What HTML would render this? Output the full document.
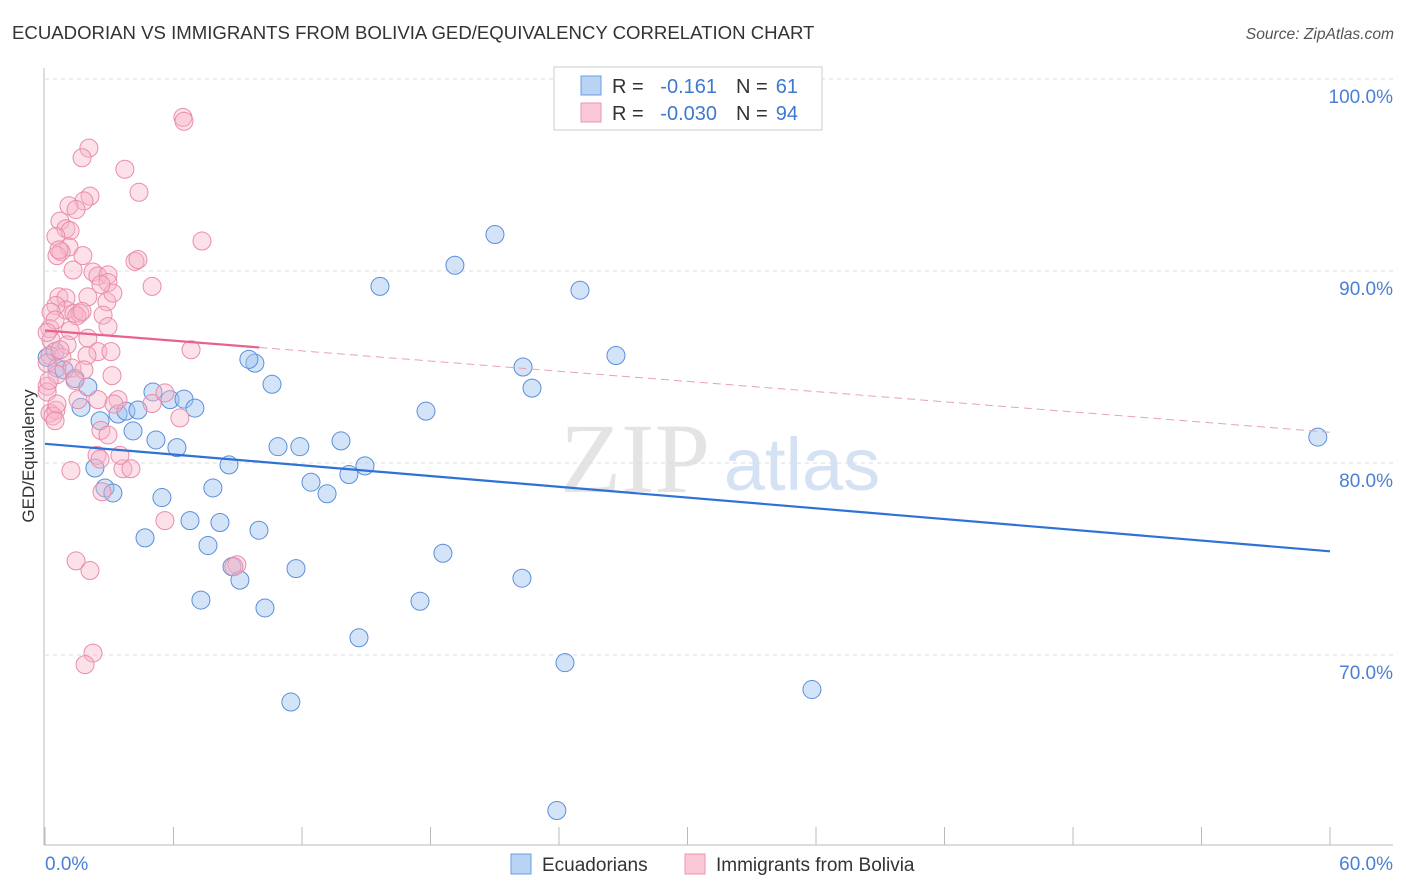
<!DOCTYPE html>
<html><head><meta charset="utf-8">
<style>
body{margin:0;background:#fff;font-family:"Liberation Sans",sans-serif;}
svg{display:block}
</style></head>
<body>
<svg id="chart" width="1406" height="892" xmlns="http://www.w3.org/2000/svg">
<text x="12" y="39" font-size="18.6" fill="#333">ECUADORIAN VS IMMIGRANTS FROM BOLIVIA GED/EQUIVALENCY CORRELATION CHART</text>
<text x="1394" y="39" font-size="15.6" fill="#555" font-style="italic" text-anchor="end">Source: ZipAtlas.com</text>
<g>
<text x="635" y="492" font-size="100" font-family="Liberation Serif,serif" fill="#e4e4e4" text-anchor="middle">ZIP</text>
<text x="802" y="490" font-size="74" fill="#d4e2f4" text-anchor="middle">atlas</text>
</g>
<g id="grid"></g>
<g id="axes"></g>
<g id="marks"></g>
<text transform="translate(34,456) rotate(-90)" font-size="17" fill="#333" text-anchor="middle">GED/Equivalency</text>
<text x="45" y="870" font-size="19" fill="#4a7fd4">0.0%</text>
<text x="1393" y="870" font-size="19" fill="#4a7fd4" text-anchor="end">60.0%</text>
<g>
<rect x="554" y="67" width="268" height="63" fill="#fff" stroke="#ccc"/>
<rect x="581" y="76" width="20" height="19" fill="#b9d3f5" stroke="#6c9ce0"/>
<rect x="581" y="103" width="20" height="19" fill="#fbc8d8" stroke="#ec94b1"/>
<text x="612" y="93" font-size="20" fill="#333">R =</text>
<text x="717" y="93" font-size="20" fill="#3e78d0" text-anchor="end">-0.161</text>
<text x="736" y="93" font-size="20" fill="#333">N =</text>
<text x="798" y="93" font-size="20" fill="#3e78d0" text-anchor="end">61</text>
<text x="612" y="120" font-size="20" fill="#333">R =</text>
<text x="717" y="120" font-size="20" fill="#3e78d0" text-anchor="end">-0.030</text>
<text x="736" y="120" font-size="20" fill="#333">N =</text>
<text x="798" y="120" font-size="20" fill="#3e78d0" text-anchor="end">94</text>
</g>
<g>
<rect x="511" y="854" width="20" height="20" fill="#b9d3f5" stroke="#6c9ce0"/>
<text x="542" y="871" font-size="19" fill="#333">Ecuadorians</text>
<rect x="685" y="854" width="20" height="20" fill="#fbc8d8" stroke="#ec94b1"/>
<text x="716" y="871" font-size="19" fill="#333">Immigrants from Bolivia</text>
</g>
</svg>
<script>
const yTicks=[100,90,80,70];
const yTickLabels=["100.0%","90.0%","80.0%","70.0%"];
const xTicks=[0,6,12,18,24,30,36,42,48,54,60];
const blueX=[59.43,21.01,19.14,24.98,15.64,26.66,22.32,22.74,9.8,9.52,10.6,17.79,0.1,0.47,0.56,0.89,1.4,2.0,1.68,2.57,3.41,3.78,4.11,4.34,5.04,5.84,6.49,7.0,5.18,6.16,8.59,10.88,11.9,13.82,14.19,14.94,12.42,13.17,7.84,2.33,2.8,3.17,5.46,6.77,8.17,4.67,9.99,7.61,18.58,8.73,9.1,11.72,22.27,7.28,10.27,17.51,14.66,24.28,35.81,11.48,23.9];
const blueY=[81.35,91.9,90.3,89.0,89.2,85.6,85.0,83.9,85.2,85.4,84.1,82.7,85.5,85.8,84.95,84.85,84.4,83.96,82.9,82.2,82.55,82.7,81.67,82.76,83.7,83.3,83.33,82.86,81.2,80.8,79.9,80.85,80.85,81.15,79.4,79.85,79.0,78.4,78.7,79.74,78.7,78.44,78.2,77.0,76.9,76.1,76.5,75.7,75.3,74.6,73.9,74.5,74.0,72.86,72.45,72.8,70.9,69.6,68.2,67.55,61.9];
const pinkX=[6.44,6.49,2.05,1.73,3.73,4.39,2.1,1.82,1.12,1.45,0.7,0.98,1.17,0.51,1.12,0.75,0.56,7.33,4.2,4.34,1.77,1.31,2.24,2.47,2.94,2.94,5.0,0.65,0.98,0.98,0.51,0.28,1.35,1.63,2.0,2.89,3.17,2.61,0.23,0.47,1.49,1.73,1.17,2.71,2.94,2.0,1.03,0.28,0.23,0.79,2.47,1.96,3.08,6.82,0.1,1.26,1.82,1.4,0.56,3.13,0.1,0.1,0.23,0.51,0.37,0.56,1.54,2.47,2.61,3.41,3.22,5.0,5.6,6.3,2.94,2.43,1.21,3.64,4.01,2.66,5.6,8.96,8.82,1.45,2.1,2.24,1.87,0.65,0.1,0.19,0.47,3.5,2.57,0.7];
const pinkY=[98.0,97.8,96.4,95.9,95.3,94.1,93.9,93.65,93.4,93.2,92.6,92.2,92.1,91.8,91.25,91.0,90.8,91.56,90.5,90.6,90.8,90.05,89.95,89.74,89.8,89.4,89.2,88.65,88.6,87.97,88.2,87.86,87.8,87.8,88.65,88.4,88.85,89.3,87.0,87.45,87.66,87.9,86.9,87.7,87.1,86.5,86.15,86.4,85.6,85.5,85.8,85.6,85.8,85.9,85.2,84.95,84.85,84.3,84.6,84.55,84.0,83.7,82.6,82.75,82.45,83.07,83.3,83.3,81.7,83.3,83.07,83.1,83.65,82.35,81.46,80.4,79.6,79.7,79.7,78.5,77.0,74.7,74.6,74.9,74.4,70.1,69.5,91.1,86.8,84.3,82.2,80.4,80.2,85.9];
const blueTrend=[81.0,75.4];
const pinkTrend=[86.9,81.6];
const pinkSolidEnd=10;

const NS="http://www.w3.org/2000/svg";
const X0=45,X1=1330,XMIN=0,XMAX=60;
const YTOP=79,YPER=19.2;
function xs(v){return X0+(v-XMIN)/(XMAX-XMIN)*(X1-X0);}
function ys(v){return YTOP+(100-v)*YPER;}
function mk(tag,attrs,parent){const e=document.createElementNS(NS,tag);for(const k in attrs)e.setAttribute(k,attrs[k]);parent.appendChild(e);return e;}
const grid=document.getElementById('grid'),axes=document.getElementById('axes'),marks=document.getElementById('marks');
yTicks.forEach((t,i)=>{
  const l=mk('line',{x1:45,x2:1393,y1:ys(t),y2:ys(t),stroke:'#ddd','stroke-dasharray':'4,4'},grid);
  
  
  const tx=mk('text',{x:1393,y:ys(t)+24,'font-size':19,fill:'#4a7fd4','text-anchor':'end'},grid);
  tx.textContent=yTickLabels[i];
  
  
});
const ya=mk('line',{x1:44,x2:44,y1:68,y2:845,stroke:'#bbb'},axes);


const xa=mk('line',{x1:44,x2:1393,y1:845,y2:845,stroke:'#bbb'},axes);


xTicks.forEach(t=>{
  const l=mk('line',{x1:xs(t),x2:xs(t),y1:827,y2:845,stroke:'#bbb'},axes);
  
  
});
blueX.forEach((v,i)=>{
  const c=mk('circle',{cx:xs(v),cy:ys(blueY[i]),r:9,fill:'rgba(160,195,240,0.45)',stroke:'#5b8fd9','stroke-width':1},marks);
  
  
});
pinkX.forEach((v,i)=>{
  const c=mk('circle',{cx:xs(v),cy:ys(pinkY[i]),r:9,fill:'rgba(248,180,200,0.4)',stroke:'#ea8cab','stroke-width':1},marks);
  
  
});
function tv(tr,x){return tr[0]+(tr[1]-tr[0])*x/60;}
const bl=mk('line',{x1:xs(0),y1:ys(tv(blueTrend,0)),x2:xs(60),y2:ys(tv(blueTrend,60)),stroke:'#2f72d6','stroke-width':2.2},marks);


const ps=mk('line',{x1:xs(0),y1:ys(tv(pinkTrend,0)),x2:xs(pinkSolidEnd),y2:ys(tv(pinkTrend,pinkSolidEnd)),stroke:'#e8628f','stroke-width':2.2},marks);


const pd=mk('line',{x1:xs(pinkSolidEnd),y1:ys(tv(pinkTrend,pinkSolidEnd)),x2:xs(60),y2:ys(tv(pinkTrend,60)),stroke:'#e8a0b8','stroke-width':1,'stroke-dasharray':'8,5'},marks);


</script>
</body></html>
